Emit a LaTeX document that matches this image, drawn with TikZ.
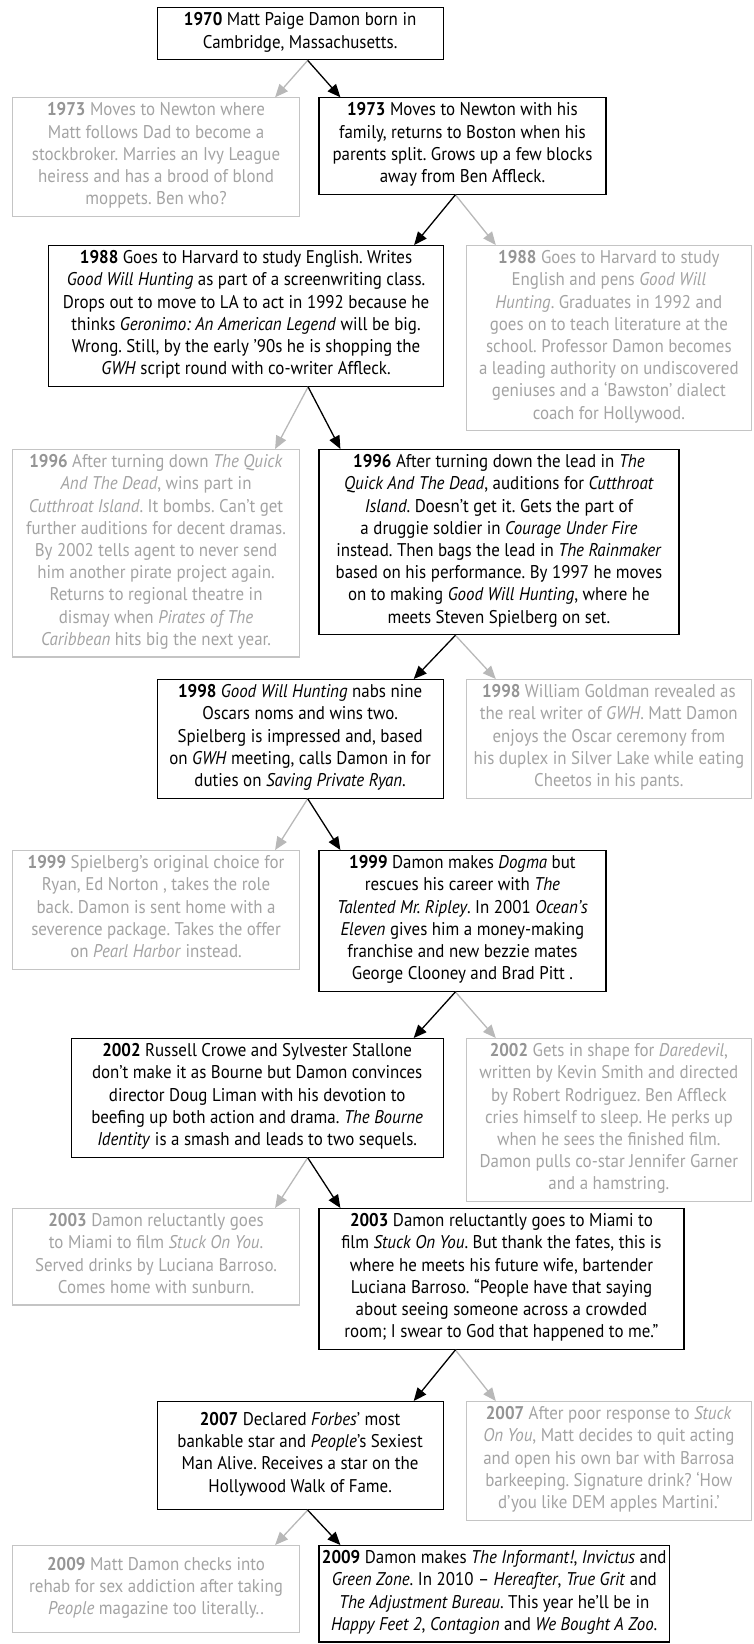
\documentclass[tikz,border=0pt]{standalone}
\usepackage{fontspec}
\setmainfont{PT Sans}[FakeStretch=0.92]
\usetikzlibrary{arrows.meta}

\definecolor{altline}{HTML}{C4C4C4}
\definecolor{alttext}{HTML}{A3A3A3}
\definecolor{altyear}{HTML}{959595}
\definecolor{arrowgray}{HTML}{B8B8B8}

\newcommand{\yr}[1]{\textbf{#1}}
\newcommand{\altyr}[1]{\textbf{\color{altyear}#1}}

\begin{document}
\frenchspacing
\begin{tikzpicture}[x=1pt, y=-1pt,
    box/.style={draw, line width=1.1pt, anchor=north west, align=center,
        inner xsep=3pt, inner ysep=5pt, font=\fontsize{18.4}{22.2}\selectfont,
        execute at begin node=\strut, execute at end node=\strut},
    real/.style={box, draw=black, text=black, minimum width=#1},
    alt/.style={box, draw=altline, text=alttext, minimum width=#1},
    arrow/.style={-{Triangle[length=13pt, width=11pt]}, line width=1.3pt, black},
    altarrow/.style={arrow, arrowgray}
]
\useasboundingbox (0,0) rectangle (753,1644);

% 1970
\node[real=286pt] (b1970) at (156.6, 7.3)
    {\yr{1970} Matt Paige Damon born in\\Cambridge, Massachusetts.};

% 1973
\node[alt=287pt] (g1973) at (12, 97.3)
    {\altyr{1973} Moves to Newton where\\Matt follows Dad to become a\\stockbroker. Marries an Ivy League\\heiress and has a brood of blond\\moppets. Ben who?};
\node[real=287pt] (b1973) at (318.4, 97.3)
    {\yr{1973} Moves to Newton with his\\family, returns to Boston when his\\parents split. Grows up a few blocks\\away from Ben Affleck.};

% 1988
\node[real=395pt] (b1988) at (48, 245)
    {\yr{1988} Goes to Harvard to study English. Writes\\\emph{Good Will Hunting} as part of a screenwriting class.\\Drops out to move to LA to act in 1992 because he\\thinks \emph{Geronimo: An American Legend} will be big.\\Wrong. Still, by the early ’90s he is shopping the\\\emph{GWH} script round with co-writer Affleck.};
\node[alt=285pt] (g1988) at (465.8, 245)
    {\altyr{1988} Goes to Harvard to study\\English and pens \emph{Good Will}\\\emph{Hunting}. Graduates in 1992 and\\goes on to teach literature at the\\school. Professor Damon becomes\\a leading authority on undiscovered\\geniuses and a ‘Bawston’ dialect\\coach for Hollywood.};

% 1996
\node[alt=287pt] (g1996) at (12, 449)
    {\altyr{1996} After turning down \emph{The Quick}\\\emph{And The Dead}, wins part in\\\emph{Cutthroat Island}. It bombs. Can’t get\\further auditions for decent dramas.\\By 2002 tells agent to never send\\him another pirate project again.\\Returns to regional theatre in\\dismay when \emph{Pirates of The}\\\emph{Caribbean} hits big the next year.};
\node[real=360pt] (b1996) at (318.4, 449)
    {\yr{1996} After turning down the lead in \emph{The}\\\emph{Quick And The Dead}, auditions for \emph{Cutthroat}\\\emph{Island}. Doesn’t get it. Gets the part of\\a druggie soldier in \emph{Courage Under Fire}\\instead. Then bags the lead in \emph{The Rainmaker}\\based on his performance. By 1997 he moves\\on to making \emph{Good Will Hunting}, where he\\meets Steven Spielberg on set.};

% 1998
\node[real=286pt] (b1998) at (156.6, 679)
    {\yr{1998} \emph{Good Will Hunting} nabs nine\\Oscars noms and wins two.\\Spielberg is impressed and, based\\on \emph{GWH} meeting, calls Damon in for\\duties on \emph{Saving Private Ryan}.};
\node[alt=285pt] (g1998) at (465.8, 679)
    {\altyr{1998} William Goldman revealed as\\the real writer of \emph{GWH}. Matt Damon\\enjoys the Oscar ceremony from\\his duplex in Silver Lake while eating\\Cheetos in his pants.};

% 1999
\node[alt=287pt] (g1999) at (12, 850)
    {\altyr{1999} Spielberg’s original choice for\\Ryan, Ed Norton , takes the role\\back. Damon is sent home with a\\severence package. Takes the offer\\on \emph{Pearl Harbor} instead.};
\node[real=287pt] (b1999) at (318.4, 850)
    {\yr{1999} Damon makes \emph{Dogma} but\\rescues his career with \emph{The}\\\emph{Talented Mr. Ripley}. In 2001 \emph{Ocean’s}\\\emph{Eleven} gives him a money-making\\franchise and new bezzie mates\\George Clooney and Brad Pitt .};

% 2002
\node[real=372pt] (b2002) at (70.6, 1038)
    {\yr{2002} Russell Crowe and Sylvester Stallone\\don’t make it as Bourne but Damon convinces\\director Doug Liman with his devotion to\\beefing up both action and drama. \emph{The Bourne}\\\emph{Identity} is a smash and leads to two sequels.};
\node[alt=285pt] (g2002) at (465.8, 1038)
    {\altyr{2002} Gets in shape for \emph{Daredevil},\\written by Kevin Smith and directed\\by Robert Rodriguez. Ben Affleck\\cries himself to sleep. He perks up\\when he sees the finished film.\\Damon pulls co-star Jennifer Garner\\and a hamstring.};

% 2003
\node[alt=287pt] (g2003) at (12, 1208)
    {\altyr{2003} Damon reluctantly goes\\to Miami to film \emph{Stuck On You}.\\Served drinks by Luciana Barroso.\\Comes home with sunburn.};
\node[real=365pt] (b2003) at (318.4, 1208)
    {\yr{2003} Damon reluctantly goes to Miami to\\film \emph{Stuck On You}. But thank the fates, this is\\where he meets his future wife, bartender\\Luciana Barroso. “People have that saying\\about seeing someone across a crowded\\room; I swear to God that happened to me.”};

% 2007
\node[real=286pt, minimum height=108pt] (b2007) at (156.6, 1401)
    {\yr{2007} Declared \emph{Forbes}’ most\\bankable star and \emph{People}’s Sexiest\\Man Alive. Receives a star on the\\Hollywood Walk of Fame.};
\node[alt=285pt] (g2007) at (465.8, 1401)
    {\altyr{2007} After poor response to \emph{Stuck}\\\emph{On You}, Matt decides to quit acting\\and open his own bar with Barrosa\\barkeeping. Signature drink? ‘How\\d’you like DEM apples Martini.’};

% 2009
\node[alt=287pt, minimum height=87pt] (g2009) at (12, 1545)
    {\altyr{2009} Matt Damon checks into\\rehab for sex addiction after taking\\\emph{People} magazine too literally..};
\node[real=347pt] (b2009) at (318.4, 1545)
    {\yr{2009} Damon makes \emph{The Informant!}, \emph{Invictus} and\\\emph{Green Zone}. In 2010 – \emph{Hereafter}, \emph{True Grit} and\\\emph{The Adjustment Bureau}. This year he’ll be in\\\emph{Happy Feet 2}, \emph{Contagion} and \emph{We Bought A Zoo}.};

% Splits from the left column
\foreach \p/\g/\b in {b1970/g1973/b1973, b1988/g1996/b1996, b1998/g1999/b1999,
                      b2002/g2003/b2003, b2007/g2009/b2009}{
    \draw[altarrow] ([xshift=-136pt]\p.south east) -- ([xshift=-25pt]\g.north east);
    \draw[arrow] ([xshift=-136pt]\p.south east) -- ([xshift=22pt]\b.north west);
}

% Splits from the right column
\foreach \p/\b/\g in {b1973/b1988/g1988, b1996/b1998/g1998,
                      b1999/b2002/g2002, b2003/b2007/g2007}{
    \draw[altarrow] ([xshift=137pt]\p.south west) -- ([xshift=30pt]\g.north west);
    \draw[arrow] ([xshift=137pt]\p.south west) -- ([xshift=-30pt]\b.north east);
}

\end{tikzpicture}
\end{document}
